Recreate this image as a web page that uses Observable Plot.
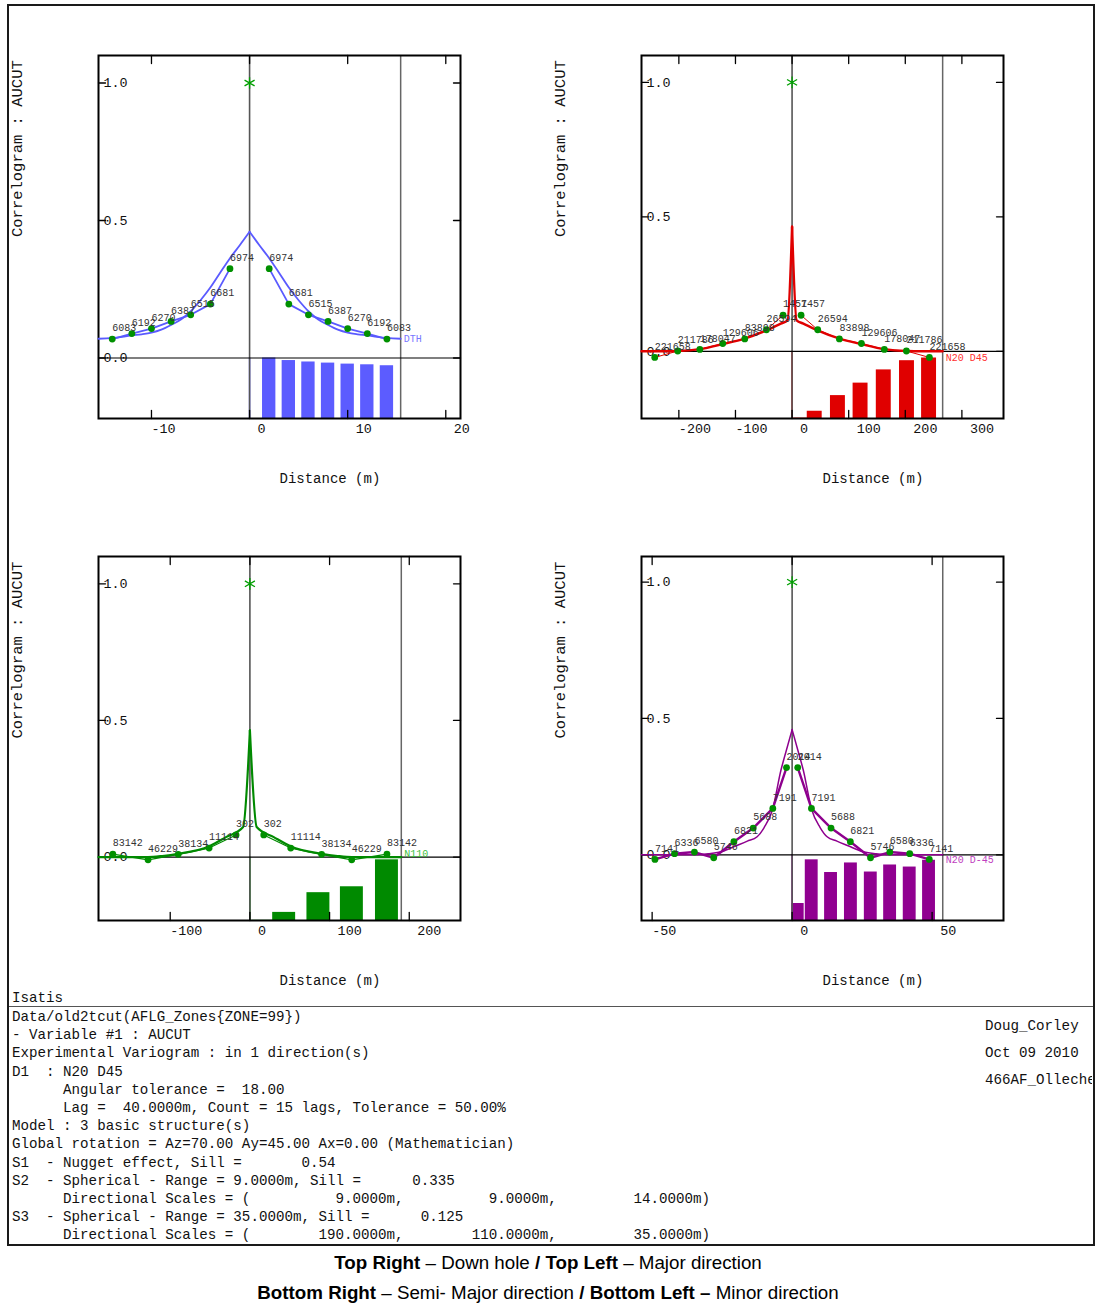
<!DOCTYPE html>
<html><head><meta charset="utf-8">
<script src="https://cdn.jsdelivr.net/npm/d3@7"></script>
<script src="https://cdn.jsdelivr.net/npm/@observablehq/plot@0.6"></script>
<style>
body{margin:0;background:#fff;}
#page{position:relative;width:1096px;height:1307px;overflow:hidden;background:#fff;}
#outer{position:absolute;left:7px;top:4px;width:1084px;height:1238px;border:2px solid #1a1a1a;pointer-events:none;}
.panel{position:absolute;}
.mono{font-family:"Liberation Mono",monospace;color:#111;white-space:pre;}
#isatis{position:absolute;left:12px;top:989px;font-size:14.2px;line-height:18px;}
#sep{position:absolute;left:9px;top:1006px;width:1084px;height:0;border-top:1.5px solid #555;}
#info{position:absolute;left:12px;top:1008px;font-size:14.2px;line-height:18.2px;margin:0;}
#right{position:absolute;left:985px;top:1013px;width:107px;overflow:hidden;font-size:14.2px;line-height:27px;}
.cap{position:absolute;left:0;width:1096px;text-align:center;font-family:"Liberation Sans",Arial,sans-serif;font-size:18.75px;line-height:22px;color:#000;}
</style></head>
<body><div id="page">
<div id="tl" class="panel"></div><div id="tr" class="panel"></div>
<div id="bl" class="panel"></div><div id="br" class="panel"></div>
<div id="isatis" class="mono">Isatis</div>
<div id="sep"></div>
<pre id="info" class="mono"></pre>
<div id="right" class="mono"></div>
<div id="outer"></div>
<div class="cap" style="top:1252px"><b>Top Right</b> – Down hole <b>/ Top Left</b> – Major direction</div>
<div class="cap" style="top:1282px"><b>Bottom Right</b> – Semi- Major direction <b>/ Bottom Left –</b> Minor direction</div>
</div>
<script>
// ---------- DATA ----------
// Top-left panel: DTH
const tlLags  = [2, 4, 6, 8, 10, 12, 14];
const tlCorr  = [0.325, 0.196, 0.157, 0.133, 0.107, 0.089, 0.069];
const tlPairs = [6974, 6681, 6515, 6387, 6270, 6192, 6083];
const tlBarX  = [2, 4, 6, 8, 10, 12, 14];
const tlModelH = [0, 1, 2, 3, 4, 5, 6, 7, 8, 9, 10, 11, 12, 13, 14, 15.4];
const tlModelC = [0.459, 0.41, 0.363, 0.31, 0.256, 0.21, 0.17, 0.14, 0.12, 0.103, 0.092, 0.086, 0.082, 0.077, 0.073, 0.07];
const tlXTicks = [-10, 0, 10, 20];
const tlXLabels = ["-10", "0", "10", "20"];

// Top-right panel: N20 D45
const trLags  = [15.9, 45.3, 83.6, 122.5, 163, 202, 242.6];
const trCorr  = [0.134, 0.080, 0.046, 0.029, 0.007, 0.001, -0.023];
const trPairs = [1457, 26594, 83898, 129606, 178047, 211786, 221658];
const trBarX  = [16, 40, 81, 121, 162, 203, 242];
const trModelH = [0, 8, 20, 45, 84, 122, 163, 202, 230, 266];
const trModelC = [0.463, 0.115, 0.103, 0.078, 0.047, 0.027, 0.008, 0.001, 0, 0];
const trXTicks = [-200, -100, 0, 100, 200, 300];
const trXLabels = ["-200", "-100", "0", "100", "200", "300"];

// Bottom-left panel: N110
const blLags  = [17.4, 51.2, 90, 127.8, 172];
const blCorr  = [0.081, 0.033, 0.010, -0.010, 0.011];
const blPairs = [302, 11114, 38134, 46229, 83142];
const blBarX  = [17, 43, 86, 128, 172];
const blModelH = [0, 8.5, 30, 51, 90, 110, 128, 190];
const blModelC = [0.464, 0.11, 0.073, 0.04, 0.012, 0.004, 0, 0];
const blXTicks = [-100, 0, 100, 200];
const blXLabels = ["-100", "0", "100", "200"];

// Bottom-right panel: N20 D-45
const brLags  = [2, 6.9, 13.9, 20.8, 28, 34.9, 42, 49];
const brCorr  = [0.320, 0.170, 0.098, 0.048, -0.011, 0.010, 0.004, -0.017];
const brPairs = [2014, 7191, 5688, 6821, 5746, 6580, 6336, 7141];
const brBarX  = [2, 7, 13.9, 21, 28.1, 35, 42, 48.9];
const brModelH = [0, 2, 4, 7, 10, 12.5, 16, 20, 25, 30, 35, 53.8];
const brModelC = [0.459, 0.385, 0.31, 0.165, 0.10, 0.066, 0.05, 0.033, 0.012, 0.004, 0, 0];
const brXTicks = [-50, 0, 50];
const brXLabels = ["-50", "0", "50"];

const yTicks = [0, 0.5, 1.0];
const yLabels = ["0.0", "0.5", "1.0"];

const infoLines = [
"Data/old2tcut(AFLG_Zones{ZONE=99})",
"- Variable #1 : AUCUT",
"Experimental Variogram : in 1 direction(s)",
"D1  : N20 D45",
"      Angular tolerance =  18.00",
"      Lag =  40.0000m, Count = 15 lags, Tolerance = 50.00%",
"Model : 3 basic structure(s)",
"Global rotation = Az=70.00 Ay=45.00 Ax=0.00 (Mathematician)",
"S1  - Nugget effect, Sill =       0.54",
"S2  - Spherical - Range = 9.0000m, Sill =      0.335",
"      Directional Scales = (          9.0000m,          9.0000m,         14.0000m)",
"S3  - Spherical - Range = 35.0000m, Sill =      0.125",
"      Directional Scales = (        190.0000m,        110.0000m,         35.0000m)"
];
const rightLines = ["Doug_Corley", "Oct 09 2010", "466AF_Olleche"];

// ---------- PANELS ----------
const panels = [
  {id:"tl", left:8, top:5, frameW:362, frameH:363, xDomain:[-15.4,21.5], yDomain:[-0.22,1.1], maxDist:15.4,
   color:"#5a5aff", barColor:"#5c5cff", labelColor:"#7878ff", name:"DTH",
   lags:tlLags, corr:tlCorr, pairs:tlPairs, barX:tlBarX, barHalf:0.68,
   modelH:tlModelH, modelC:tlModelC, xTicks:tlXTicks, xLabels:tlXLabels, expW:1.8, modW:1.8},
  {id:"tr", left:551, top:5, frameW:362, frameH:363, xDomain:[-266,373.5], yDomain:[-0.25,1.1], maxDist:266,
   color:"#e00000", barColor:"#e00000", labelColor:"#ff3030", name:"N20 D45",
   lags:trLags, corr:trCorr, pairs:trPairs, barX:trBarX, barHalf:13.2,
   modelH:trModelH, modelC:trModelC, xTicks:trXTicks, xLabels:trXLabels, expW:1, modW:2.4},
  {id:"bl", left:8, top:506, frameW:362, frameH:364, xDomain:[-190,264.3], yDomain:[-0.232,1.1], maxDist:190,
   color:"#008a00", barColor:"#008a00", labelColor:"#40c040", name:"N110",
   lags:blLags, corr:blCorr, pairs:blPairs, barX:blBarX, barHalf:14.4,
   modelH:blModelH, modelC:blModelC, xTicks:blXTicks, xLabels:blXLabels, expW:1.2, modW:2.2},
  {id:"br", left:551, top:506, frameW:362, frameH:364, xDomain:[-53.8,75.5], yDomain:[-0.241,1.094], maxDist:53.8,
   color:"#8e008e", barColor:"#900090", labelColor:"#c040c0", name:"N20 D-45",
   lags:brLags, corr:brCorr, pairs:brPairs, barX:brBarX, barHalf:2.3,
   modelH:brModelH, modelC:brModelC, xTicks:brXTicks, xLabels:brXLabels, expW:2.4, modW:1.5}
];

const mono = "Liberation Mono";
const tickShape = {draw(ctx, l){ ctx.moveTo(0,0); ctx.lineTo(0,-l); }};
const nb = s => (s.startsWith("-") ? s : "\u00a0" + s);

for (const p of panels) {
  const mL = 90, mT = 50, mR = 80, mB = 75;
  const [y0, y1] = p.yDomain;
  const right = p.lags.map((h,i)=>({h, c:p.corr[i], n:String(p.pairs[i])}));
  const left  = p.lags.map((h,i)=>({h:-h, c:p.corr[i], n:String(p.pairs[i])}));
  const mRight = p.modelH.map((h,i)=>({h, c:p.modelC[i]}));
  const mLeft  = p.modelH.map((h,i)=>({h:-h, c:p.modelC[i]}));
  const maxN = d3.max(p.pairs);
  const barScale = d3.scaleLinear([0, maxN], [y0, y0 + (y1 - y0) / 6]);
  const bars = p.pairs.map((n,i)=>({x1: Math.max(0, p.barX[i]-p.barHalf), x2: p.barX[i]+p.barHalf, top: barScale(n)}));
  const last = right[right.length-1];

  const chart = Plot.plot({
    width: mL + p.frameW + mR, height: mT + p.frameH + mB,
    marginLeft: mL, marginRight: mR, marginTop: mT, marginBottom: mB,
    x: {domain: p.xDomain, axis: null},
    y: {domain: p.yDomain, axis: null},
    style: {fontFamily: mono, background: "transparent", overflow: "visible"},
    marks: [
      Plot.rectY(bars, {x1:"x1", x2:"x2", y1: y0, y2:"top", fill: p.barColor}),
      Plot.ruleX([0], {y1: y0, y2: 0, stroke: p.color, strokeWidth: 1.5}),
      Plot.ruleX([0], {stroke: "#555", strokeWidth: 1.6}),
      Plot.ruleX([p.maxDist], {stroke: "#666", strokeWidth: 1.5}),
      Plot.ruleY([0], {stroke: "#000", strokeWidth: 1.2}),
      Plot.frame({stroke: "#000", strokeWidth: 2}),
      // ticks (inward)
      Plot.vector(p.xTicks, {x: d=>d, frameAnchor:"bottom", length: 8, anchor:"start", shape: tickShape, stroke:"#000", strokeWidth:1.3}),
      Plot.vector(p.xTicks, {x: d=>d, frameAnchor:"top", length: 8, rotate: 180, anchor:"start", shape: tickShape, stroke:"#000", strokeWidth:1.3}),
      Plot.vector(yTicks, {y: d=>d, frameAnchor:"left", length: 7, rotate: 90, anchor:"start", shape: tickShape, stroke:"#000", strokeWidth:1.3}),
      Plot.vector(yTicks, {y: d=>d, frameAnchor:"right", length: 7, rotate: -90, anchor:"start", shape: tickShape, stroke:"#000", strokeWidth:1.3}),
      // tick labels
      Plot.text(p.xTicks, {x: d=>d, text: (d,i)=>nb(p.xLabels[i]), frameAnchor:"bottom", dy: 10, textAnchor:"start", lineAnchor:"middle", fontSize: 13.4, fill:"#111"}),
      Plot.text(yTicks, {y: d=>d, text: (d,i)=>yLabels[i], frameAnchor:"left", dx: 5, textAnchor:"start", lineAnchor:"middle", fontSize: 13.4, fill:"#111"}),
      // axis titles
      Plot.text(["Correlogram : AUCUT"], {frameAnchor:"left", dx: -81, rotate: -90, textAnchor:"start", lineAnchor:"middle", fontSize: 15.5, fill:"#111"}),
      Plot.text(["Distance (m)"], {frameAnchor:"bottom", dy: 60, textAnchor:"start", lineAnchor:"middle", fontSize: 14, fill:"#111"}),
      // model
      Plot.line(mLeft, {x:"h", y:"c", stroke: p.color, strokeWidth: p.modW, curve:"monotone-x"}),
      Plot.line(mRight, {x:"h", y:"c", stroke: p.color, strokeWidth: p.modW, curve:"monotone-x"}),
      // experimental
      Plot.line(left, {x:"h", y:"c", stroke: p.color, strokeWidth: p.expW}),
      Plot.line(right, {x:"h", y:"c", stroke: p.color, strokeWidth: p.expW}),
      Plot.dot([...left, ...right], {x:"h", y:"c", r: 3.4, fill:"#009000", stroke:"none"}),
      Plot.text([...left, ...right], {x:"h", y:"c", text: d => d.n, dy:-11, textAnchor:"start", lineAnchor:"middle", fontSize: 10, fill:"#333"}),
      Plot.text([last], {x: p.maxDist, y:"c", text: [p.name], dx: 3, textAnchor:"start", lineAnchor:"middle", fontSize: 10, fill: p.labelColor}),
      Plot.dot([{h:0, c:1.0}], {x:"h", y:"c", symbol:"asterisk", r: 5.5, stroke:"#00a000", strokeWidth: 1.3})
    ]
  });
  const host = document.getElementById(p.id);
  host.style.left = p.left + "px";
  host.style.top = p.top + "px";
  host.appendChild(chart);
}

document.getElementById("info").textContent = infoLines.join("\n");
document.getElementById("right").textContent = rightLines.join("\n");
</script>
</body></html>
